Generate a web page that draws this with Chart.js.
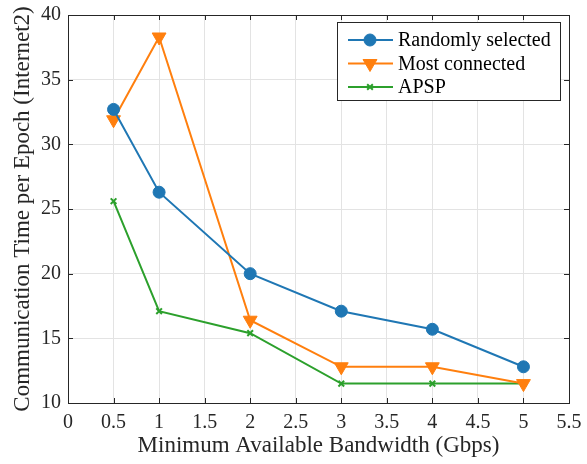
<!DOCTYPE html>
<html>
<head>
<meta charset="utf-8">
<script src="https://cdn.jsdelivr.net/npm/chart.js@4.4.1/dist/chart.umd.min.js"></script>
<style>
  html, body { margin: 0; padding: 0; background: #fff; }
  #wrap { width: 587px; height: 464px; }
</style>
</head>
<body>
<div id="wrap"><canvas id="myChart" width="587" height="464"></canvas></div>
<script>
const bandwidth = [0.5, 1, 2, 3, 4, 5];
const randomSel = [32.7, 26.3, 20.0, 17.1, 15.7, 12.8];
const mostConn = [31.9, 38.3, 16.4, 12.8, 12.8, 11.5];
const apsp = [25.6, 17.1, 15.4, 11.5, 11.5, 11.5];
const seriesNames = ['Randomly selected', 'Most connected', 'APSP'];

const FONT = "'Liberation Serif', 'Times New Roman', serif";
const AXIS = '#262626';

function pts(ys) {
    return bandwidth.map(function (x, i) { return { x: x, y: ys[i] }; });
}

// inward ticks + box around the axes, like the original
const boxPlugin = {
    id: 'box',
    afterDatasetsDraw(chart) {
        const ctx = chart.ctx;
        const a = chart.chartArea;
        const xs = chart.scales.x, ys = chart.scales.y;
        ctx.save();
        ctx.strokeStyle = AXIS;
        ctx.lineWidth = 1;
        ctx.strokeRect(Math.round(a.left) + 0.5, Math.round(a.top) + 0.5,
            Math.round(a.right - a.left), Math.round(a.bottom - a.top));
        ctx.beginPath();
        xs.ticks.forEach(function (t) {
            const px = Math.round(xs.getPixelForValue(t.value)) + 0.5;
            ctx.moveTo(px, a.bottom); ctx.lineTo(px, a.bottom - 5);
            ctx.moveTo(px, a.top); ctx.lineTo(px, a.top + 5);
        });
        ys.ticks.forEach(function (t) {
            const py = Math.round(ys.getPixelForValue(t.value)) + 0.5;
            ctx.moveTo(a.left, py); ctx.lineTo(a.left + 5, py);
            ctx.moveTo(a.right, py); ctx.lineTo(a.right - 5, py);
        });
        ctx.stroke();
        ctx.restore();
    },
    afterDraw(chart) {
        // legend box in the top right of the plot
        const ctx = chart.ctx;
        const a = chart.chartArea;
        const w = 223, h = 78;
        const x0 = a.right - 9 - w, y0 = a.top + 7;
        ctx.save();
        ctx.fillStyle = '#fff';
        ctx.fillRect(x0, y0, w, h);
        ctx.strokeStyle = AXIS;
        ctx.lineWidth = 1;
        ctx.strokeRect(Math.round(x0) + 0.5, Math.round(y0) + 0.5, w, h);
        ctx.font = '20px ' + FONT;
        ctx.textBaseline = 'middle';
        chart.data.datasets.forEach(function (ds, i) {
            const yy = y0 + 18 + i * 23.5;
            ctx.strokeStyle = ds.borderColor;
            ctx.lineWidth = ds.borderWidth;
            ctx.beginPath();
            ctx.moveTo(x0 + 11, yy); ctx.lineTo(x0 + 56, yy);
            ctx.stroke();
            ctx.fillStyle = ds.pointBackgroundColor;
            ctx.strokeStyle = ds.pointBorderColor;
            ctx.lineWidth = ds.pointBorderWidth || 1;
            Chart.helpers.drawPoint(ctx, {
                pointStyle: ds.pointStyle,
                rotation: ds.pointRotation || 0,
                radius: ds.pointRadius,
                borderWidth: ds.pointBorderWidth || 1
            }, x0 + 33, yy);
            ctx.fillStyle = '#000';
            ctx.fillText(ds.label, x0 + 61, yy + 1);
        });
        ctx.restore();
    }
};

const config = {
    type: 'line',
    data: {
        datasets: [{
            label: seriesNames[0],
            data: pts(randomSel),
            borderColor: '#1f77b4',
            backgroundColor: '#1f77b4',
            pointBackgroundColor: '#1f77b4',
            pointBorderColor: '#1f77b4',
            borderWidth: 2,
            pointStyle: 'circle',
            pointRadius: 6,
            pointBorderWidth: 1
        }, {
            label: seriesNames[1],
            data: pts(mostConn),
            borderColor: '#ff7f0e',
            backgroundColor: '#ff7f0e',
            pointBackgroundColor: '#ff7f0e',
            pointBorderColor: '#ff7f0e',
            borderWidth: 2,
            pointStyle: 'triangle',
            pointRotation: 180,
            pointRadius: 8,
            pointBorderWidth: 1
        }, {
            label: seriesNames[2],
            data: pts(apsp),
            borderColor: '#2ca02c',
            backgroundColor: '#2ca02c',
            pointBackgroundColor: '#2ca02c',
            pointBorderColor: '#2ca02c',
            borderWidth: 2,
            pointStyle: 'crossRot',
            pointRadius: 4,
            pointBorderWidth: 2
        }]
    },
    options: {
        responsive: false,
        animation: false,
        layout: { padding: { left: 0, top: 15, right: 18, bottom: 0 } },
        plugins: {
            legend: { display: false },
            tooltip: { enabled: false }
        },
        scales: {
            x: {
                type: 'linear',
                min: 0,
                max: 5.5,
                ticks: {
                    stepSize: 0.5,
                    color: '#262626',
                    padding: 8,
                    font: { family: FONT, size: 20 },
                    maxRotation: 0,
                    callback: function (v) { return String(v); }
                },
                grid: { color: '#e3e3e3', drawTicks: false },
                border: { display: false },
                title: {
                    display: true,
                    text: 'Minimum Available Bandwidth (Gbps)',
                    color: '#262626',
                    font: { family: FONT, size: 23 },
                    padding: { top: 0, bottom: 4 }
                },
                afterFit: function (scale) {
                    scale.height = 61;
                    scale.paddingLeft = 0;
                    scale.paddingRight = 0;
                }
            },
            y: {
                min: 10,
                max: 40,
                ticks: {
                    stepSize: 5,
                    color: '#262626',
                    padding: 7,
                    font: { family: FONT, size: 20 }
                },
                grid: { color: '#e3e3e3', drawTicks: false },
                border: { display: false },
                title: {
                    display: true,
                    text: 'Communication Time per Epoch (Internet2)',
                    color: '#262626',
                    font: { family: FONT, size: 23 },
                    padding: { top: 9, bottom: 0 }
                },
                afterFit: function (scale) {
                    scale.width = 68;
                    scale.paddingTop = 0;
                    scale.paddingBottom = 0;
                }
            }
        }
    },
    plugins: [boxPlugin]
};

const myChart = new Chart(document.getElementById('myChart'), config);
</script>
</body>
</html>
